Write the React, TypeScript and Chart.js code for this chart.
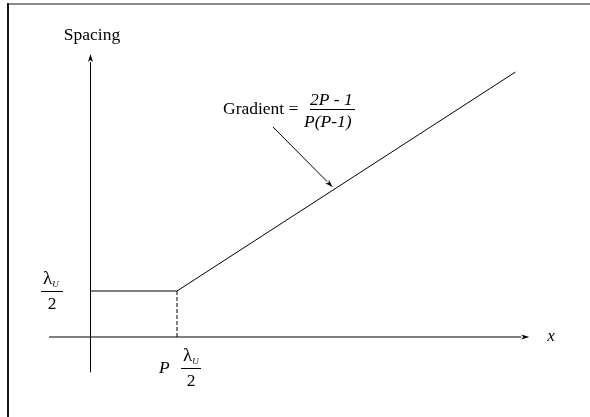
import { useEffect, useRef } from "react";
import { Chart, registerables } from "chart.js";

Chart.register(...registerables);

// Piecewise spacing profile: flat at λU/2 up to P·λU/2, then rising linearly.
// x in units of P·λU/2, spacing in units of λU/2.
const separation = [0, 1, 4.89];
const spacingValues = [1, 1, 5.76];

// Dashed drop line from the knee down to the x axis.
const dropX = [1, 1];
const dropY = [0, 1];

// Axis extents (data units) and the pointer target on the rising segment.
const xAxisRange = [-0.47, 5.05];
const yAxisRange = [-0.77, 6.15];
const pointerAt = 2.79;

const yAxisTitle = "Spacing";
const xAxisTitle = "x";
const gradientLabel = "Gradient =";
const gradientNumerator = "2P - 1";
const gradientDenominator = "P(P-1)";
const lambdaSymbol = "λ";
const lambdaSub = "U";
const halfDenominator = "2";
const pSymbol = "P";

const W = 590;
const H = 417;
const ORIGIN = { x: 90, y: 337 };
const UNIT = { x: 87, y: 46 };
const SERIF = '"Liberation Serif", "Times New Roman", serif';

function lineAt(x: number) {
  const [x1, x2] = [separation[1], separation[2]];
  const [y1, y2] = [spacingValues[1], spacingValues[2]];
  return y1 + ((x - x1) * (y2 - y1)) / (x2 - x1);
}

function arrow(
  ctx: CanvasRenderingContext2D,
  x1: number,
  y1: number,
  x2: number,
  y2: number,
  len = 8,
  half = 2.5
) {
  const a = Math.atan2(y2 - y1, x2 - x1);
  const bx = x2 - len * Math.cos(a);
  const by = y2 - len * Math.sin(a);
  ctx.beginPath();
  ctx.moveTo(x1, y1);
  ctx.lineTo(bx, by);
  ctx.stroke();
  ctx.beginPath();
  ctx.moveTo(x2, y2);
  ctx.lineTo(bx + half * Math.sin(a), by - half * Math.cos(a));
  ctx.lineTo(bx + len * 0.25 * Math.cos(a), by + len * 0.25 * Math.sin(a));
  ctx.lineTo(bx - half * Math.sin(a), by + half * Math.cos(a));
  ctx.closePath();
  ctx.fill();
}

// λU over 2, with the bar centred on cx at height barY
function halfLambda(ctx: CanvasRenderingContext2D, cx: number, barY: number, barW: number) {
  ctx.fillRect(cx - barW / 2, barY - 0.5, barW, 1);
  ctx.textAlign = "left";
  ctx.font = `19px ${SERIF}`;
  ctx.fillText(lambdaSymbol, cx - barW / 2 + 2, barY - 8);
  const lw = ctx.measureText(lambdaSymbol).width;
  ctx.font = `italic 9px ${SERIF}`;
  ctx.fillText(lambdaSub, cx - barW / 2 + 2 + lw, barY - 5);
  ctx.font = `17.5px ${SERIF}`;
  ctx.textAlign = "center";
  ctx.fillText(halfDenominator, cx, barY + 17);
}

const diagram = {
  id: "diagram",
  beforeDatasetsDraw(chart: any) {
    const ctx: CanvasRenderingContext2D = chart.ctx;
    const px = (v: number) => chart.scales.x.getPixelForValue(v);
    const py = (v: number) => chart.scales.y.getPixelForValue(v);
    ctx.save();
    // frame
    ctx.fillStyle = "#8a8a8a";
    ctx.fillRect(8, 3, W - 8, 2);
    ctx.fillStyle = "#151515";
    ctx.fillRect(7, 3, 2, H - 3);
    // axes
    ctx.strokeStyle = "#000";
    ctx.fillStyle = "#000";
    ctx.lineWidth = 1;
    arrow(ctx, px(xAxisRange[0]), py(0), px(xAxisRange[1]), py(0));
    arrow(ctx, px(0) + 0.5, py(yAxisRange[0]), px(0) + 0.5, py(yAxisRange[1]));
    ctx.restore();
  },
  afterDraw(chart: any) {
    const ctx: CanvasRenderingContext2D = chart.ctx;
    const px = (v: number) => chart.scales.x.getPixelForValue(v);
    const py = (v: number) => chart.scales.y.getPixelForValue(v);
    ctx.save();
    ctx.fillStyle = "#000";
    ctx.strokeStyle = "#000";
    ctx.lineWidth = 1;
    ctx.textBaseline = "alphabetic";

    // axis titles
    ctx.font = `17.5px ${SERIF}`;
    ctx.textAlign = "center";
    ctx.fillText(yAxisTitle, px(0) + 2, 40);
    ctx.font = `italic 17px ${SERIF}`;
    ctx.textAlign = "left";
    ctx.fillText(xAxisTitle, px(xAxisRange[1]) + 18, py(0) + 4);

    // plateau level label
    halfLambda(ctx, px(0) - 38, Math.round(py(spacingValues[0])) + 0.5, 22);

    // knee position label
    const kx = px(dropX[0]);
    ctx.font = `italic 17.5px ${SERIF}`;
    ctx.textAlign = "left";
    ctx.fillText(pSymbol, kx - 18, py(0) + 36);
    halfLambda(ctx, kx + 14, py(0) + 31.5, 20);

    // gradient annotation
    ctx.font = `17.5px ${SERIF}`;
    ctx.textAlign = "left";
    ctx.fillText(gradientLabel, 223, 114);
    ctx.font = `italic 17.5px ${SERIF}`;
    ctx.fillText(gradientNumerator, 310, 105);
    ctx.fillRect(310, 109, 45, 1);
    ctx.fillText(gradientDenominator, 304, 127);

    const tx = px(pointerAt);
    const ty = py(lineAt(pointerAt)) - 3;
    arrow(ctx, 273, 127, tx, ty, 8, 2.5);
    ctx.restore();
  },
};

export default function App() {
  const ref = useRef<HTMLCanvasElement>(null);

  useEffect(() => {
    if (!ref.current) return;
    const chart = new Chart(ref.current, {
      type: "scatter",
      data: {
        datasets: [
          {
            data: separation.map((x, i) => ({ x, y: spacingValues[i] })),
            showLine: true,
            borderColor: "#000",
            borderWidth: 1,
            pointRadius: 0,
          },
          {
            data: dropX.map((x, i) => ({ x, y: dropY[i] })),
            showLine: true,
            borderColor: "#000",
            borderWidth: 1,
            borderDash: [4, 2],
            pointRadius: 0,
          },
        ],
      },
      options: {
        responsive: false,
        animation: false,
        layout: { padding: 0 },
        plugins: { legend: { display: false }, tooltip: { enabled: false } },
        scales: {
          x: {
            type: "linear",
            display: false,
            min: -ORIGIN.x / UNIT.x,
            max: (W - ORIGIN.x) / UNIT.x,
          },
          y: {
            type: "linear",
            display: false,
            min: -(H - ORIGIN.y) / UNIT.y,
            max: ORIGIN.y / UNIT.y,
          },
        },
      },
      plugins: [diagram],
    });
    return () => chart.destroy();
  }, []);

  return (
    <div style={{ position: "fixed", left: 0, top: 0, width: W, height: H, background: "#fff" }}>
      <canvas ref={ref} width={W} height={H} style={{ display: "block" }} />
    </div>
  );
}
